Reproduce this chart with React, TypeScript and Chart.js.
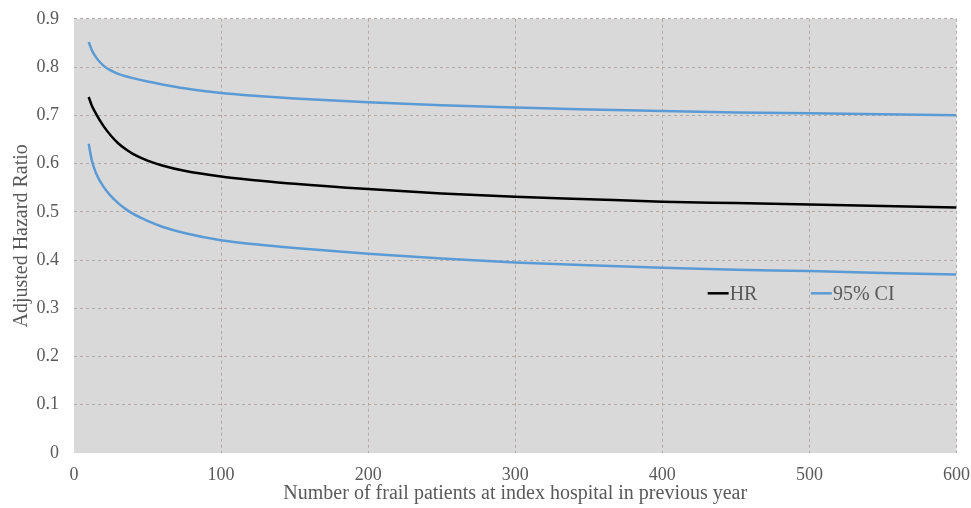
import React, { useEffect, useRef } from "react";
import { Chart, registerables } from "chart.js";

Chart.register(...registerables);

const xValues = [10, 12, 15, 20, 25, 30, 35, 40, 50, 60, 75, 100, 125, 150, 200, 250, 300, 350, 400, 450, 500, 550, 600];
const hrValues = [0.738, 0.721, 0.703, 0.678, 0.658, 0.642, 0.63, 0.62, 0.606, 0.596, 0.585, 0.573, 0.565, 0.558, 0.547, 0.538, 0.531, 0.526, 0.521, 0.518, 0.515, 0.512, 0.509];
const upperValues = [0.852, 0.836, 0.82, 0.803, 0.793, 0.786, 0.781, 0.777, 0.77, 0.764, 0.756, 0.746, 0.74, 0.735, 0.727, 0.721, 0.716, 0.712, 0.709, 0.706, 0.704, 0.702, 0.7];
const lowerValues = [0.641, 0.608, 0.58, 0.552, 0.533, 0.518, 0.506, 0.496, 0.481, 0.469, 0.456, 0.441, 0.432, 0.425, 0.413, 0.403, 0.395, 0.389, 0.384, 0.38, 0.377, 0.373, 0.37];
const xTicks = [0, 100, 200, 300, 400, 500, 600];
const yTicks = [0, 0.1, 0.2, 0.3, 0.4, 0.5, 0.6, 0.7, 0.8, 0.9];
const legendLabels = ["HR", "95% CI"];
const xTitle = "Number of frail patients at index hospital in previous year";
const yTitle = "Adjusted Hazard Ratio";

const FONT = "'Liberation Serif', 'Times New Roman', serif";
const TEXT = "#595959";
const BLUE = "#5b9bd5";
const GRID = "#b3aaa5";

const toPoints = (ys: number[]) => xValues.map((x, i) => ({ x, y: ys[i] }));

const bgPlugin = {
  id: "plotBg",
  beforeDraw(chart: any) {
    const { ctx, chartArea } = chart;
    ctx.save();
    ctx.fillStyle = "#d9d9d9";
    ctx.fillRect(chartArea.left, chartArea.top, chartArea.right - chartArea.left, chartArea.bottom - chartArea.top);
    ctx.restore();
  },
};

const legendPlugin = {
  id: "innerLegend",
  afterDraw(chart: any) {
    const { ctx, chartArea } = chart;
    const w = chartArea.right - chartArea.left;
    const y = chart.scales.y.getPixelForValue(0.331);
    const items = [
      { label: legendLabels[0], color: "#000000", x: chartArea.left + w * 0.718 },
      { label: legendLabels[1], color: BLUE, x: chartArea.left + w * 0.835 },
    ];
    ctx.save();
    ctx.font = `20px ${FONT}`;
    ctx.textBaseline = "middle";
    ctx.textAlign = "left";
    for (const it of items) {
      ctx.strokeStyle = it.color;
      ctx.lineWidth = 2.5;
      ctx.beginPath();
      ctx.moveTo(it.x, y);
      ctx.lineTo(it.x + 21, y);
      ctx.stroke();
      ctx.fillStyle = TEXT;
      ctx.fillText(it.label, it.x + 22, y + 1);
    }
    ctx.restore();
  },
};

export default function App() {
  const ref = useRef<HTMLCanvasElement>(null);

  useEffect(() => {
    if (!ref.current) return;
    const chart = new Chart(ref.current, {
      type: "line",
      data: {
        datasets: [
          { label: "95% CI upper", data: toPoints(upperValues), borderColor: BLUE, borderWidth: 2.5, pointRadius: 0, cubicInterpolationMode: "monotone", fill: false },
          { label: "HR", data: toPoints(hrValues), borderColor: "#000000", borderWidth: 2.5, pointRadius: 0, cubicInterpolationMode: "monotone", fill: false },
          { label: "95% CI lower", data: toPoints(lowerValues), borderColor: BLUE, borderWidth: 2.5, pointRadius: 0, cubicInterpolationMode: "monotone", fill: false },
        ],
      },
      options: {
        animation: false,
        responsive: true,
        maintainAspectRatio: false,
        layout: { padding: { top: 6, left: 0, right: 0, bottom: 0 } },
        plugins: { legend: { display: false }, tooltip: { enabled: false } },
        scales: {
          x: {
            type: "linear",
            min: 0,
            max: 600,
            afterBuildTicks: (s: any) => { s.ticks = xTicks.map((v) => ({ value: v })); },
            afterFit: (s: any) => { s.height = 55; },
            ticks: { color: TEXT, font: { family: FONT, size: 18 }, padding: 11, maxRotation: 0 },
            grid: {
              color: (c: any) => (c.tick && c.tick.value === 0 ? "rgba(0,0,0,0)" : GRID),
              drawTicks: false,
              lineWidth: 1,
            },
            border: { display: false, dash: [3, 3] },
            title: { display: true, text: xTitle, color: TEXT, font: { family: FONT, size: 20 }, padding: { top: 0, bottom: 2 } },
          },
          y: {
            type: "linear",
            min: 0,
            max: 0.9,
            afterBuildTicks: (s: any) => { s.ticks = yTicks.map((v) => ({ value: v })); },
            afterFit: (s: any) => { s.width = 74; },
            ticks: { color: TEXT, font: { family: FONT, size: 18 }, padding: 15, callback: (v: any) => String(Math.round(Number(v) * 10) / 10) },
            grid: {
              color: (c: any) => (c.tick && c.tick.value === 0 ? "rgba(0,0,0,0)" : GRID),
              drawTicks: false,
              lineWidth: 1,
            },
            border: { display: false, dash: [3, 3] },
            title: { display: true, text: yTitle, color: TEXT, font: { family: FONT, size: 20 }, padding: { top: 10, bottom: 0 } },
          },
        },
      },
      plugins: [bgPlugin, legendPlugin],
    } as any);
    return () => chart.destroy();
  }, []);

  return (
    <div style={{ position: "fixed", left: 0, top: 0, width: 971, height: 508, overflow: "hidden", background: "#ffffff" }}>
      <div style={{ position: "absolute", left: 0, top: -7, width: 981, height: 515 }}>
        <canvas ref={ref} />
      </div>
    </div>
  );
}
